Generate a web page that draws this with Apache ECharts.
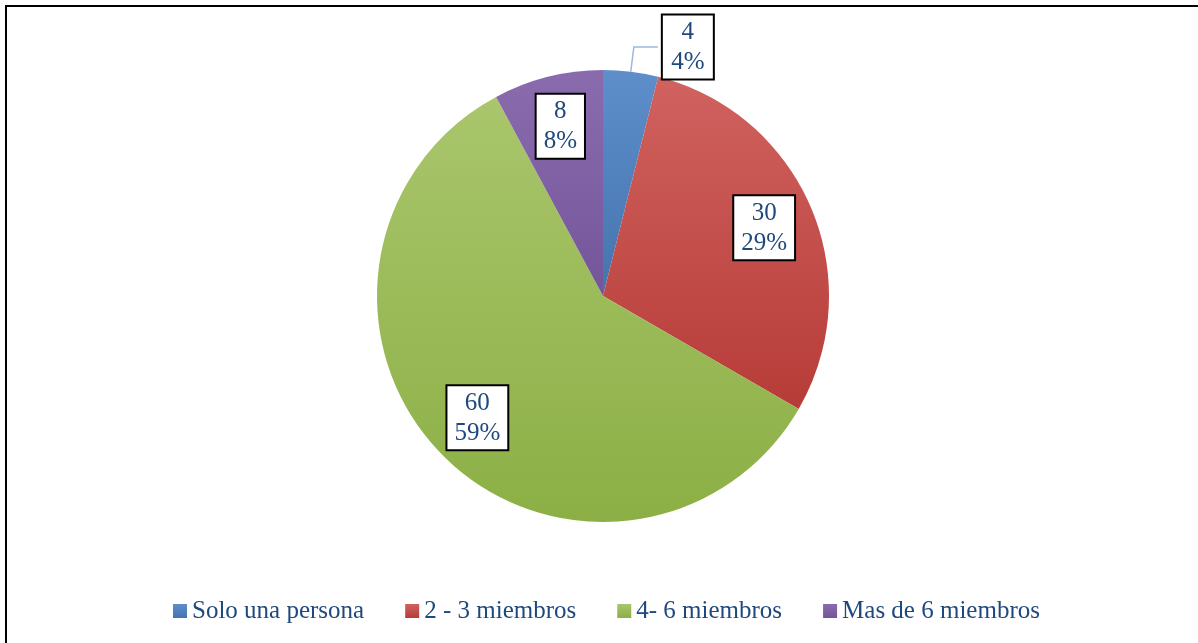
<!DOCTYPE html>
<html>
<head>
<meta charset="utf-8" />
<title>Miembros del hogar</title>
<script src="https://cdn.jsdelivr.net/npm/echarts@6/dist/echarts.min.js"></script>
<style>
  html, body { margin: 0; padding: 0; background: #fff; }
  #frame { position: absolute; left: 5px; top: 5px; width: 1193px; height: 638px;
           border-top: 2px solid #000; border-left: 2px solid #000; }
  #main { position: absolute; left: 0; top: 0; width: 1198px; height: 643px; }
</style>
</head>
<body>
<div id="frame"></div>
<div id="main"></div>
<script type="text/javascript">
  // datos
  var categorias = ['Solo una persona', '2 - 3 miembros', '4- 6 miembros', 'Mas de 6 miembros'];
  var valores = [4, 30, 60, 8];
  var porcentajes = ['4%', '29%', '59%', '8%'];

  // colores estilo Office (degradado vertical)
  var colores = [
    ['#5E8FCB', '#4573AE'],
    ['#D0625F', '#B73C38'],
    ['#A9C66C', '#8CAF45'],
    ['#8A6CAE', '#74559A']
  ];
  function grad(c) {
    return new echarts.graphic.LinearGradient(0, 0, 0, 1, [
      { offset: 0, color: c[0] },
      { offset: 1, color: c[1] }
    ]);
  }

  var fuente = 'Liberation Serif';
  var azulTexto = '#1F497D';
  var cajaLabel = {
    fontFamily: fuente,
    fontSize: 25,
    lineHeight: 30,
    color: azulTexto,
    backgroundColor: '#fff',
    borderColor: '#000',
    borderWidth: 2,
    padding: [2, 7, 1, 7],
    align: 'center',
    formatter: function (p) {
      return '{c|' + p.value + '}\n{c|' + porcentajes[p.dataIndex] + '}';
    },
    rich: {
      c: { fontFamily: fuente, fontSize: 25, lineHeight: 30, color: azulTexto, align: 'center' }
    }
  };

  // serie visible: solo la etiqueta de la porcion pequena va fuera
  var datosPie = categorias.map(function (n, i) {
    return {
      name: n,
      value: valores[i],
      itemStyle: { color: grad(colores[i]) },
      label: { show: i === 0 },
      labelLine: { show: i === 0 }
    };
  });
  // serie transparente para colocar las etiquetas interiores
  var datosEtiquetas = categorias.map(function (n, i) {
    return {
      name: n,
      value: valores[i],
      label: { show: i !== 0 }
    };
  });

  var chart = echarts.init(document.getElementById('main'));
  var option = {
    backgroundColor: 'transparent',
    animation: false,
    legend: {
      data: categorias,
      left: 168,
      top: 592,
      itemWidth: 14,
      itemHeight: 14,
      itemGap: 41,
      icon: 'rect',
      textStyle: { fontFamily: fuente, fontSize: 25, lineHeight: 28, color: azulTexto }
    },
    series: [{
      name: 'Miembros',
      type: 'pie',
      center: [603, 296],
      radius: [0, 226],
      startAngle: 90,
      clockwise: true,
      avoidLabelOverlap: false,
      itemStyle: { borderWidth: 0 },
      label: Object.assign({}, cajaLabel, {
        position: 'outside',
        distanceToLabelLine: 5,
        rich: { c: { fontFamily: fuente, fontSize: 25, lineHeight: 30, color: azulTexto, align: 'center', width: 36 } }
      }),
      labelLine: { length: 25, length2: 24, lineStyle: { color: '#9DB9DE', width: 1.5 } },
      emphasis: { disabled: true },
      data: datosPie
    }, {
      name: 'Etiquetas',
      type: 'pie',
      center: [603, 296],
      radius: [118, 226],
      startAngle: 90,
      clockwise: true,
      silent: true,
      avoidLabelOverlap: false,
      legendHoverLink: false,
      itemStyle: { color: 'rgba(0,0,0,0)' },
      label: Object.assign({}, cajaLabel, { position: 'inside' }),
      labelLine: { show: false },
      emphasis: { disabled: true },
      data: datosEtiquetas
    }]
  };
  chart.setOption(option);
</script>
</body>
</html>
